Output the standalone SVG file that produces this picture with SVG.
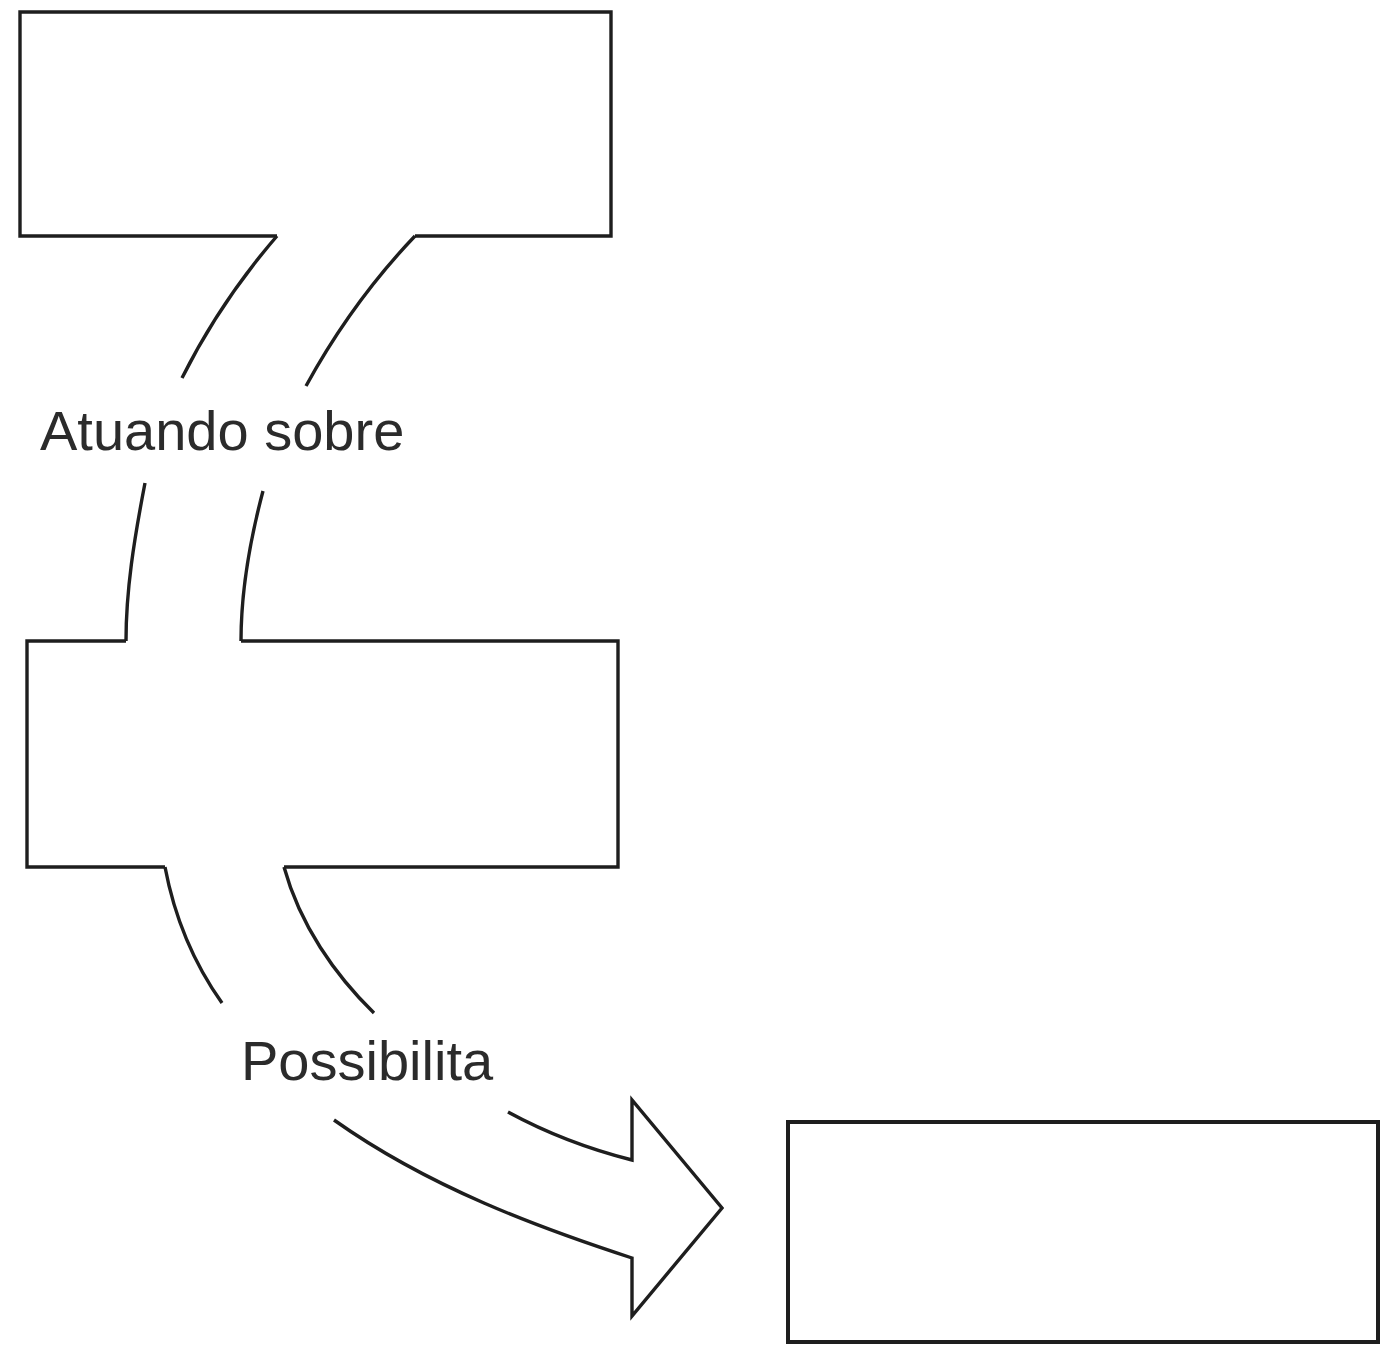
<svg xmlns="http://www.w3.org/2000/svg" width="1389" height="1345" viewBox="0 0 1389 1345">
<style>
.box{fill:none;stroke:#1e1e1e;stroke-width:3.4;stroke-linejoin:miter}
.cur{fill:none;stroke:#1e1e1e;stroke-width:3.4;stroke-linecap:butt;stroke-linejoin:miter}
.lbl{font-family:"Liberation Sans",Arial,sans-serif;font-size:56px;fill:#2b2b2b}
</style>
<rect width="1389" height="1345" fill="#ffffff"/>
<g id="node-top">
<path class="box" d="M277,236 L20,236 L20,12 L611,12 L611,236 L415,236"/>
</g>
<g id="node-middle">
<path class="box" d="M126,641 L27,641 L27,867 L165,867 M284,867 L618,867 L618,641 L241,641"/>
</g>
<g id="node-bottom">
<rect class="box" x="788" y="1122" width="590" height="220" style="stroke-width:4"/>
</g>
<g id="connectors">
<path class="cur" d="M277,236 Q220,302 182,378"/>
<path class="cur" d="M415,236 Q352,302 306,386"/>
<path class="cur" d="M145,483 C134,540 126,590 126,641"/>
<path class="cur" d="M263,491 C250,540 241,590 241,641"/>
<path class="cur" d="M165,867 C175,920 195,965 222,1003"/>
<path class="cur" d="M284,867 C300,925 335,975 374,1013"/>
<path class="cur" d="M508,1112 Q565,1143 632,1160 L632,1100 L722,1208 L632,1316 L632,1258 C540,1228 430,1188 334,1120"/>
</g>
<text class="lbl" x="40" y="450">Atuando sobre</text>
<text class="lbl" x="241" y="1080">Possibilita</text>
</svg>
